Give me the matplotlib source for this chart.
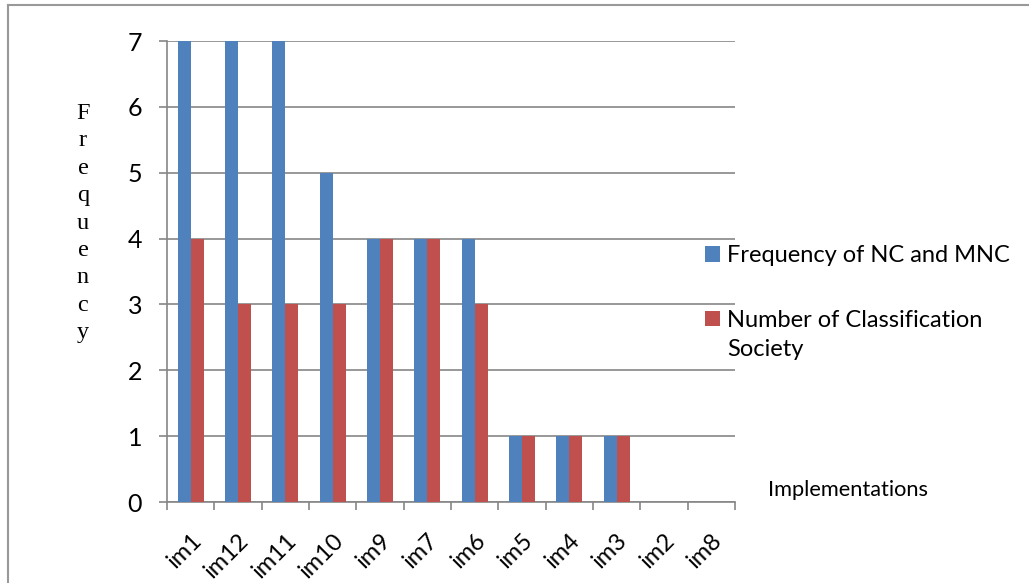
import matplotlib
matplotlib.use("Agg")
import matplotlib.pyplot as plt
from matplotlib.patches import Patch
from matplotlib.lines import Line2D
import numpy as np

categories = ["im1", "im12", "im11", "im10", "im9", "im7", "im6",
              "im5", "im4", "im3", "im2", "im8"]
freq_nc_mnc = [7, 7, 7, 5, 4, 4, 4, 1, 1, 1, 0, 0]
num_class_society = [4, 3, 3, 3, 4, 4, 3, 1, 1, 1, 0, 0]
series_names = ["Frequency of NC and MNC", "Number of Classification"]
series_name_tail = "Society"
y_ticks = [0, 1, 2, 3, 4, 5, 6, 7]

BLUE = "#4F81BD"
RED = "#C0504D"
GRID = "#868686"
SANS = ["Lato", "DejaVu Sans"]

W, H = 1029, 583
fig = plt.figure(figsize=(W / 100, H / 100), dpi=100)
ax = fig.add_axes([167 / W, 1 - 502 / H, (735 - 167) / W, (502 - 41) / H])

x = np.arange(len(categories))
w = 0.275
ax.bar(x - w / 2, freq_nc_mnc, width=w, color=BLUE, zorder=3)
ax.bar(x + w / 2, num_class_society, width=w, color=RED, zorder=3)

ax.set_xlim(-0.5, len(categories) - 0.5)
ax.set_ylim(0, 7)

# y axis: gridlines, outward ticks
ax.set_yticks(y_ticks)
ax.yaxis.grid(True, color=GRID, linewidth=1.2, zorder=0)
ax.tick_params(axis="y", length=6, width=1.2, color=GRID, pad=12,
               labelsize=18)

# x axis: ticks at category boundaries, labels at centers
ax.set_xticks(np.arange(-0.5, len(categories), 1.0))
ax.set_xticklabels([])
ax.tick_params(axis="x", which="major", length=6, width=1.2, color=GRID)
ax.set_xticks(x, minor=True)
ax.set_xticklabels(categories, minor=True, rotation=45, ha="right",
                   va="top", rotation_mode="anchor", fontsize=17)
ax.tick_params(axis="x", which="minor", length=0, pad=20)

for lbl in ax.get_xticklabels(minor=True) + ax.get_yticklabels():
    lbl.set_family(SANS)

for side in ("top", "right"):
    ax.spines[side].set_visible(False)
for side in ("left", "bottom"):
    ax.spines[side].set_color(GRID)
    ax.spines[side].set_linewidth(1.2)

# vertical stacked axis title
fig.text(83 / W, 1 - 103 / H, "\n".join("Frequency"),
         family=["Liberation Serif", "DejaVu Serif"], fontsize=17.5,
         ha="center", va="top", linespacing=1.40)

fig.text(768 / W, 1 - 490 / H, "Implementations", family=SANS,
         fontsize=15.7, ha="left", va="center")

handles = [Patch(facecolor=BLUE), Patch(facecolor=RED)]
leg = fig.legend(handles, series_names, loc="upper left",
                 bbox_to_anchor=(705 / W, 1 - 245 / H), frameon=False,
                 prop={"family": SANS, "size": 17}, handlelength=0.65,
                 handleheight=0.65, handletextpad=0.3, labelspacing=1.85,
                 borderaxespad=0, borderpad=0)
fig.text(727 / W, 1 - 349 / H, series_name_tail, family=SANS,
         fontsize=17, ha="left", va="center")

# outer frame lines on top and left edges
fig.add_artist(Line2D([8 / W, 1.0], [1 - 5 / H, 1 - 5 / H],
                      transform=fig.transFigure, color="#999999", lw=1.5))
fig.add_artist(Line2D([8 / W, 8 / W], [0.0, 1 - 5 / H],
                      transform=fig.transFigure, color="#999999", lw=1.5))

fig.savefig("out.png", dpi=100)
